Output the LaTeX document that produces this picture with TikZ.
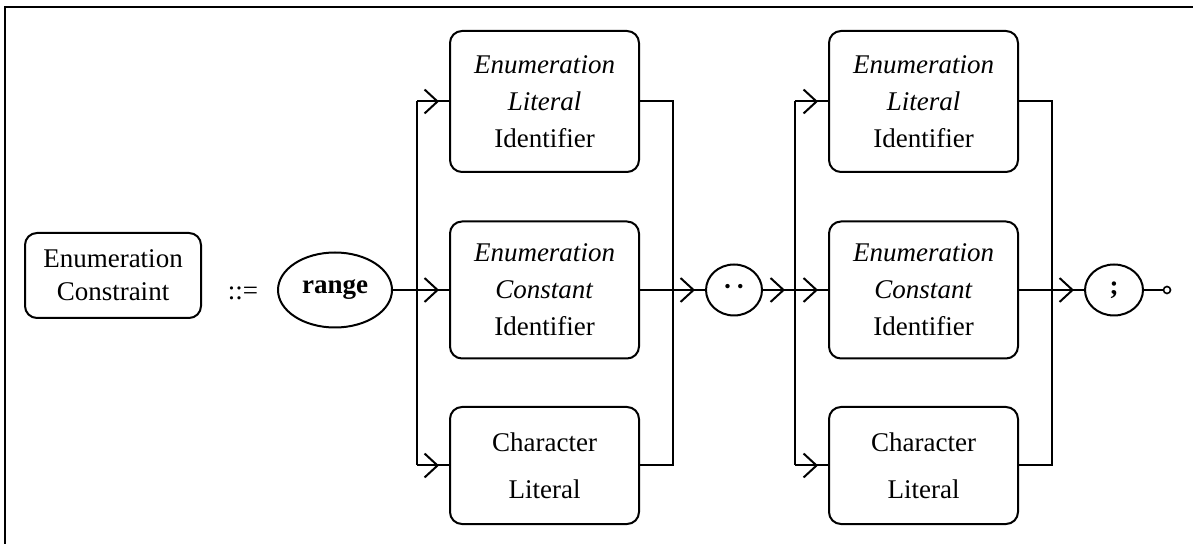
\documentclass[tikz,border=0pt]{standalone}
\usepackage{fontspec}
\setmainfont{Liberation Serif}
\usetikzlibrary{arrows.meta,decorations.markings,shapes.geometric}

\tikzset{
  rule/.style={draw, rounded corners=6pt, align=center, minimum width=94.5pt, inner sep=0pt},
  token/.style={draw, ellipse, inner sep=0pt},
  entry/.style={postaction={decorate},
    decoration={markings, mark=at position -5pt with {\arrow{Straight Barb[length=6.5pt,width=12pt]}}}},
}

\begin{document}
\begin{tikzpicture}[x=0.5pt, y=-0.5pt, line width=1pt, font=\fontsize{13.5}{18.5}\selectfont]
  \useasboundingbox (0,0) rectangle (1193,544);
  \draw[line width=1.3pt] (5,570) |- (1220,7);

  \node[rule, minimum width=88pt, minimum height=42.5pt, font=\fontsize{13.5}{16.5}\selectfont] (enumcon) at (113,275.5) {Enumeration\\Constraint};
  \node (defn) at (243,293) {::=};
  \node[token, minimum width=57pt, minimum height=37.5pt] (range) at (335,290) {\textbf{range}};

  \coordinate (s1) at (417,290);
  \coordinate (j1) at (673,290);
  \node[rule, minimum height=70.5pt] (lit1) at (544.5,101.5) {\textit{Enumeration}\\\textit{Literal}\\Identifier};
  \node[rule, minimum height=68.5pt] (con1) at (544.5,290) {\textit{Enumeration}\\\textit{Constant}\\Identifier};
  \node[rule, minimum height=58.5pt, font=\fontsize{13.5}{23.5}\selectfont] (chr1) at (544.5,465.5) {Character\\Literal};

  \node[token, minimum width=28pt, minimum height=25.5pt] (dots) at (734,290) {\textbf{·\hspace{2pt}·}};

  \coordinate (s2) at (795,290);
  \coordinate (j2) at (1052,290);
  \node[rule, minimum height=70.5pt] (lit2) at (923.5,101.5) {\textit{Enumeration}\\\textit{Literal}\\Identifier};
  \node[rule, minimum height=68.5pt] (con2) at (923.5,290) {\textit{Enumeration}\\\textit{Constant}\\Identifier};
  \node[rule, minimum height=58.5pt, font=\fontsize{13.5}{23.5}\selectfont] (chr2) at (923.5,465.5) {Character\\Literal};

  \node[token, minimum width=29pt, minimum height=25.5pt] (semi) at (1114,290) {\textbf{;}};
  \node[circle, draw, line width=0.8pt, inner sep=0pt, minimum size=3.5pt] (fin) at (1167,290) {};

  \draw (range) -- (s1);
  \draw[entry] (s1) -- (con1);
  \draw (s1 |- lit1) -- (s1 |- chr1);
  \draw[entry] (s1 |- lit1) -- (lit1);
  \draw[entry] (s1 |- chr1) -- (chr1);
  \draw (lit1.east) -| (j1 |- chr1) -- (chr1.east);
  \draw[entry] (con1) -- (dots);

  \draw[entry] (dots) -- (s2);
  \draw[entry] (s2) -- (con2);
  \draw (s2 |- lit2) -- (s2 |- chr2);
  \draw[entry] (s2 |- lit2) -- (lit2);
  \draw[entry] (s2 |- chr2) -- (chr2);
  \draw (lit2.east) -| (j2 |- chr2) -- (chr2.east);
  \draw[entry] (con2) -- (semi);
  \draw (semi) -- (fin);
\end{tikzpicture}
\end{document}
